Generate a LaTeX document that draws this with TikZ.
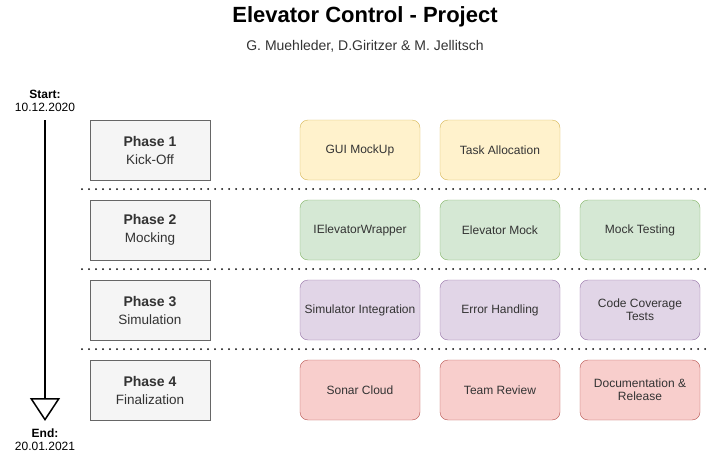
\documentclass[tikz,border=0pt]{standalone}
\usepackage{fontspec}
\setmainfont{Liberation Sans}
\usetikzlibrary{arrows.meta}
\definecolor{ylf}{HTML}{FFF2CC}\definecolor{yls}{HTML}{D6B656}
\definecolor{grf}{HTML}{D5E8D4}\definecolor{grs}{HTML}{82B366}
\definecolor{puf}{HTML}{E1D5E7}\definecolor{pus}{HTML}{9673A6}
\definecolor{rdf}{HTML}{F8CECC}\definecolor{rds}{HTML}{B85450}
\definecolor{gyf}{HTML}{F5F5F5}\definecolor{gys}{HTML}{666666}
\definecolor{txt}{HTML}{333333}
\begin{document}
\begin{tikzpicture}[x=1pt,y=-1pt,
  phasebox/.style={draw=gys,fill=gyf,minimum width=120pt,minimum height=60pt,inner sep=0pt,align=center,text=txt,font=\fontsize{13.5}{18}\selectfont},
  taskbox/.style={rounded corners=8pt,minimum width=120pt,minimum height=60pt,inner sep=0pt,align=center,text=txt,font=\fontsize{12}{13}\selectfont},
  yb/.style={taskbox,draw=yls,fill=ylf},
  gb/.style={taskbox,draw=grs,fill=grf},
  pb/.style={taskbox,draw=pus,fill=puf},
  rb/.style={taskbox,draw=rds,fill=rdf},
  sep/.style={line width=2pt,dash pattern=on 0pt off 7pt,line cap=round},
  datelbl/.style={align=center,font=\fontsize{12}{13}\selectfont,inner sep=0pt}]
\useasboundingbox (0,0) rectangle (713,455);
\node[font=\bfseries\fontsize{22}{26}\selectfont] (title) at (365,17) {Elevator Control - Project};
\node[font=\fontsize{14}{16}\selectfont,text=txt] (sub) at (365,46) {G. Muehleder, D.Giritzer \& M. Jellitsch};

\node[datelbl] (startlbl) at (45,101) {\textbf{Start:}\\10.12.2020};
\node[datelbl] (endlbl) at (45,440) {\textbf{End:}\\20.01.2021};
\coordinate (tstart) at (45,120);
\coordinate (tend) at (45,421);
\draw[line width=2pt,-{Triangle[open,length=23pt,width=30pt,line width=1.5pt]}] (tstart) -- (tend);

\foreach \i/\t/\s in {1/Kick-Off/120,2/Mocking/200,3/Simulation/280,4/Finalization/360}{
  \node[phasebox] (ph\i) at (150,\s+30) {\textbf{\fontsize{14}{17}\selectfont Phase \i}\\\t};
}
\node[yb] (t11) at (360,150) {GUI MockUp};
\node[yb] (t12) at (500,150) {Task Allocation};
\node[gb] (t21) at (360,230) {IElevatorWrapper};
\node[gb] (t22) at (500,230) {Elevator Mock};
\node[gb] (t23) at (640,230) {Mock Testing};
\node[pb] (t31) at (360,310) {Simulator Integration};
\node[pb] (t32) at (500,310) {Error Handling};
\node[pb] (t33) at (640,310) {Code Coverage\\Tests};
\node[rb] (t41) at (360,390) {Sonar Cloud};
\node[rb] (t42) at (500,390) {Team Review};
\node[rb] (t43) at (640,390) {Documentation \&\\Release};

\foreach \y/\n in {189/a,269/b,349/c}{
  \coordinate (l\n) at (82,\y); \coordinate (r\n) at (708,\y);
  \draw[sep] (l\n) -- (r\n);
}
\end{tikzpicture}
\end{document}
